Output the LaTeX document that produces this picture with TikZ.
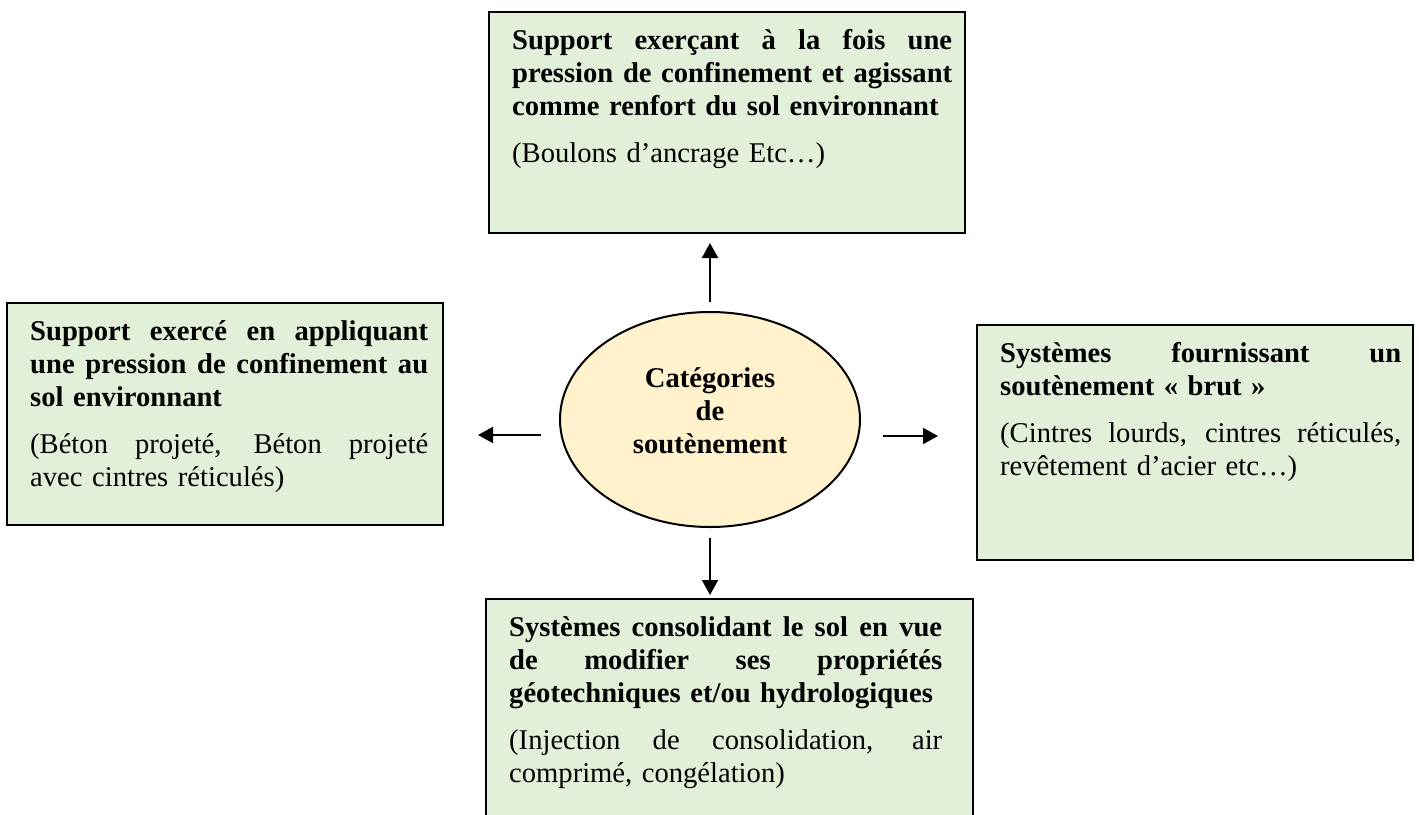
\documentclass[tikz,border=0pt]{standalone}
\usepackage{fontspec}
\setmainfont{Liberation Serif}
\usetikzlibrary{arrows.meta,shapes.geometric}
\definecolor{vertpale}{HTML}{E2EFD9}
\definecolor{jaunepale}{HTML}{FFF2CC}
\newcommand{\jl}[1]{{\spaceskip=0pt\xspaceskip=0pt\makebox[\hsize][s]{#1}}}

\begin{document}
\begin{tikzpicture}[x=1pt,y=-1pt,
    cadre/.style={draw=black,line width=2.5pt,fill=vertpale},
    texte/.style={anchor=north west,inner sep=0pt,align=left,
        font=\fontsize{28.6}{33}\selectfont,
        execute at begin node=\rule{0pt}{20pt}},
    fleche/.style={line width=2pt,-{Triangle[length=15pt,width=16pt]}}]
    \useasboundingbox (0,0) rectangle (1419,814);

    \filldraw[cadre] (489,12) rectangle (965,233);
    \coordinate (haut) at (727,233);
    \node[texte,text width=440pt] (thaut) at (512,29) {%
        \textbf{\jl{Support exerçant à la fois une}}\\
        \textbf{\jl{pression de confinement et agissant}}\\
        \textbf{comme renfort du sol environnant}\\[14pt]
        (Boulons d’ancrage Etc…)};

    \filldraw[cadre] (7,303) rectangle (443,525);
    \coordinate (gauche) at (443,435);
    \node[texte,text width=398pt] (tgauche) at (30,320) {%
        \textbf{\jl{Support exercé en appliquant}}\\
        \textbf{\jl{une pression de confinement au}}\\
        \textbf{sol environnant}\\[14pt]
        \jl{(Béton projeté, Béton projeté}\\
        avec cintres réticulés)};

    \filldraw[cadre] (977,325) rectangle (1413,560);
    \coordinate (droite) at (977,436);
    \node[texte,text width=401pt] (tdroite) at (1000,342) {%
        \textbf{\jl{Systèmes fournissant un}}\\
        \textbf{soutènement « brut »}\\[14pt]
        \jl{(Cintres lourds, cintres réticulés,}\\
        revêtement d’acier etc…)};

    \filldraw[cadre] (486,599) rectangle (973,840);
    \coordinate (bas) at (710,599);
    \node[texte,text width=433pt] (tbas) at (509,616) {%
        \textbf{\jl{Systèmes consolidant le sol en vue}}\\
        \textbf{\jl{de modifier ses propriétés}}\\
        \textbf{géotechniques et/ou hydrologiques}\\[14pt]
        \jl{(Injection de consolidation, air}\\
        comprimé, congélation)};

    \node[ellipse,draw=black,line width=2pt,fill=jaunepale,
        minimum width=300pt,minimum height=215pt,inner sep=0pt] (cat) at (710,419.5) {};
    \node[align=center,inner sep=0pt,font=\bfseries\fontsize{28.6}{33}\selectfont]
        (tcat) at (710,411) {Catégories\\de\\soutènement};

    \draw[fleche,shorten <=9pt,shorten >=10pt] (cat.north) -- (cat.north |- haut);
    \draw[fleche,shorten <=10pt,shorten >=4pt] (cat.south) -- (bas);
    \draw[fleche,shorten <=18pt,shorten >=35pt] (cat.west |- gauche) -- (gauche);
    \draw[fleche,shorten <=22pt,shorten >=39pt] (cat.east |- droite) -- (droite);
\end{tikzpicture}
\end{document}
